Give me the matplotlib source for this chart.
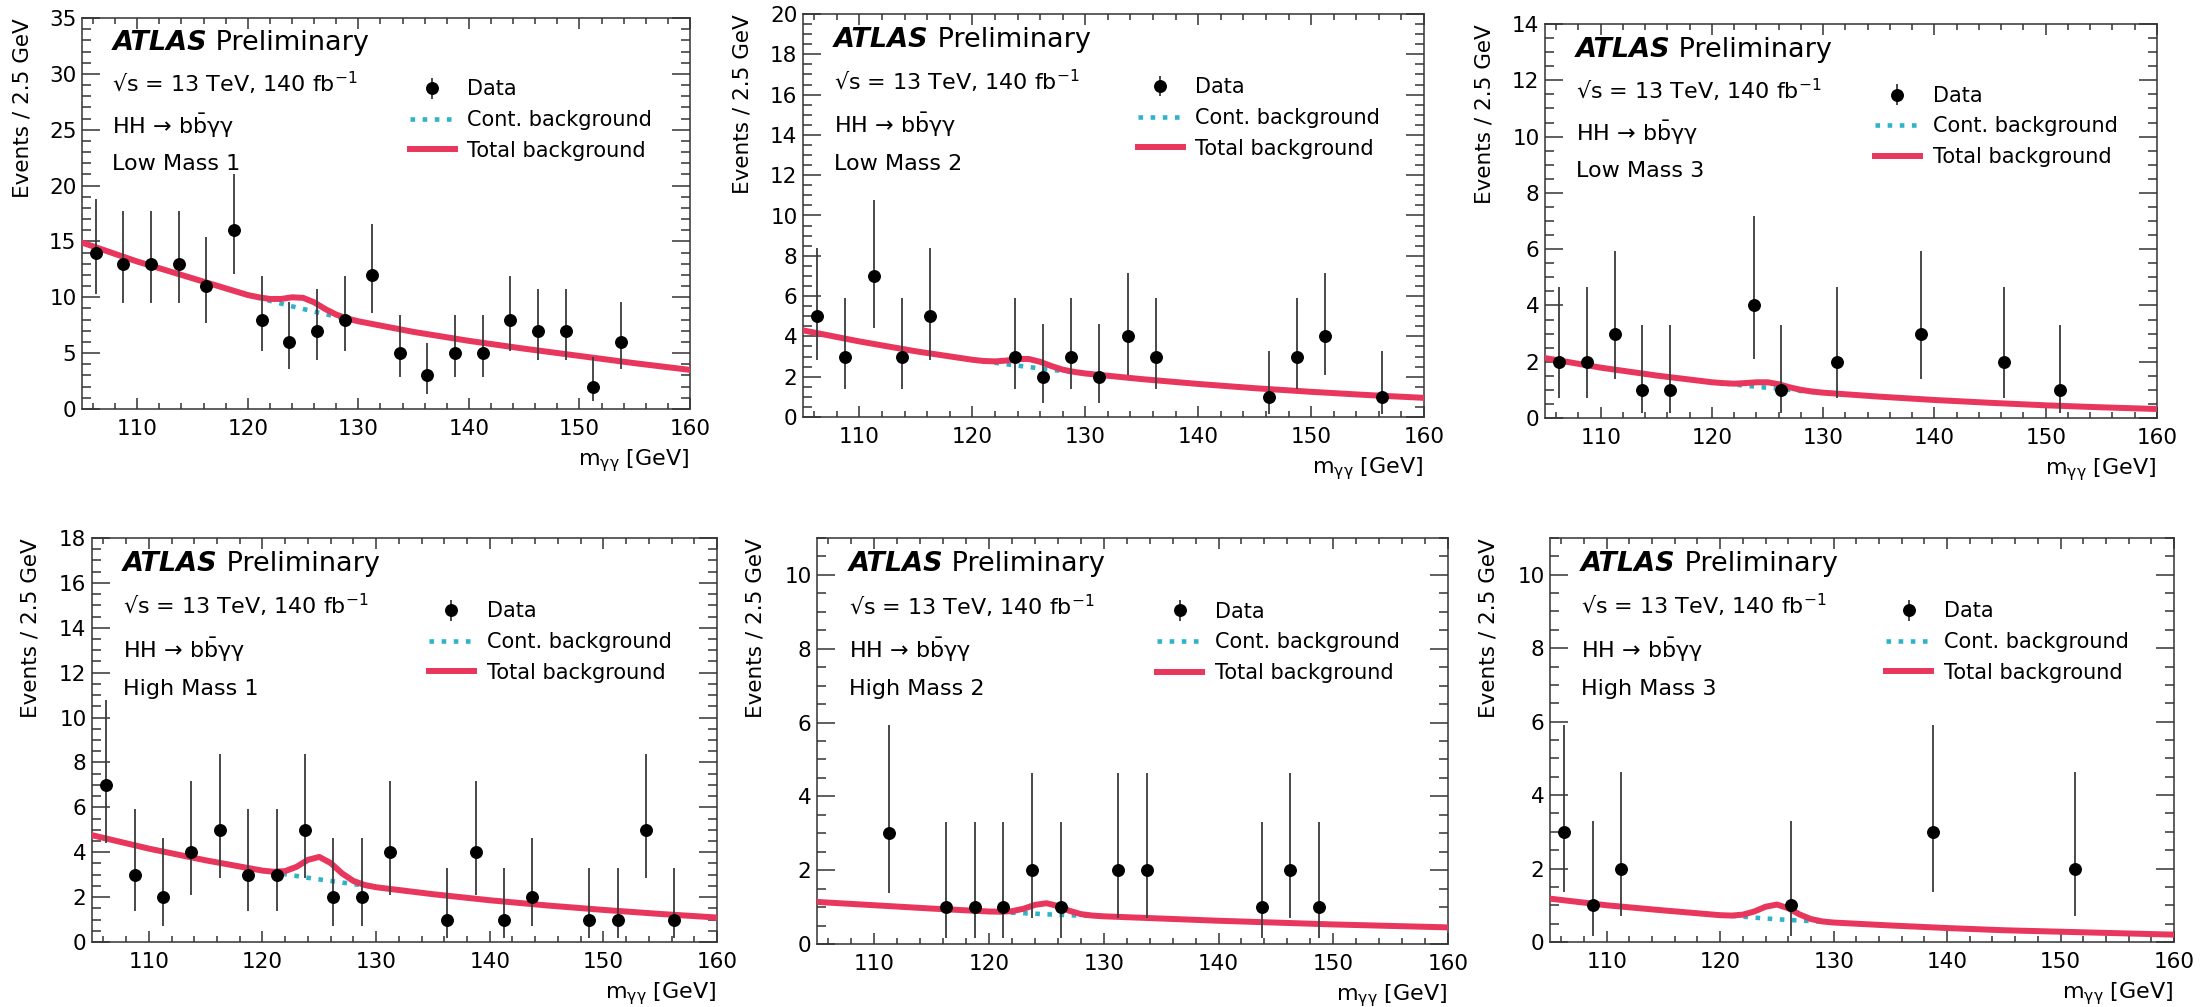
import matplotlib
matplotlib.use("Agg")
import matplotlib.pyplot as plt
from matplotlib.ticker import MultipleLocator

plt.rcParams['font.family'] = ['DejaVu Sans']
plt.rcParams['mathtext.fontset'] = 'dejavusans'

# 2.5 GeV bins between 105 and 160 GeV
bin_centers = [106.25, 108.75, 111.25, 113.75, 116.25, 118.75, 121.25, 123.75,
               126.25, 128.75, 131.25, 133.75, 136.25, 138.75, 141.25, 143.75,
               146.25, 148.75, 151.25, 153.75, 156.25, 158.75]

# observed events per bin (empty bins are not drawn)
counts_lm1 = [14, 13, 13, 13, 11, 16, 8, 6, 7, 8, 12, 5, 3, 5, 5, 8, 7, 7, 2, 6, 0, 0]
counts_lm2 = [5, 3, 7, 3, 5, 0, 0, 3, 2, 3, 2, 4, 3, 0, 0, 0, 1, 3, 4, 0, 1, 0]
counts_lm3 = [2, 2, 3, 1, 1, 0, 0, 4, 1, 0, 2, 0, 0, 3, 0, 0, 2, 0, 1, 0, 0, 0]
counts_hm1 = [7, 3, 2, 4, 5, 3, 3, 5, 2, 2, 4, 0, 1, 4, 1, 2, 0, 1, 1, 5, 1, 0]
counts_hm2 = [0, 0, 3, 0, 1, 1, 1, 2, 1, 0, 2, 2, 0, 0, 0, 1, 2, 1, 0, 0, 0, 0]
counts_hm3 = [3, 1, 2, 0, 0, 0, 0, 0, 1, 0, 0, 0, 0, 3, 0, 0, 0, 0, 2, 0, 0, 0]

# asymmetric Poisson bands (lower, upper) per observed count, as drawn
poisson_band = {1: (0.17, 3.30), 2: (0.71, 4.64), 3: (1.37, 5.92), 4: (2.09, 7.16),
                5: (2.84, 8.38), 6: (3.62, 9.58), 7: (4.42, 10.77), 8: (5.23, 11.95),
                11: (7.74, 15.42), 12: (8.62, 16.60), 13: (9.47, 17.70),
                14: (10.33, 18.84), 16: (12.06, 21.00)}

# continuum background curve
cont_x = [105, 110, 115, 120, 122, 124, 126, 128, 130, 135, 140, 145, 150, 155, 160]
cont_lm1 = [14.9, 13.2, 11.7, 10.2, 9.68, 9.19, 8.72, 8.27, 7.85, 6.9, 6.1, 5.4, 4.75, 4.1, 3.5]
cont_lm2 = [4.3, 3.75, 3.26, 2.84, 2.69, 2.55, 2.41, 2.28, 2.16, 1.88, 1.64, 1.43, 1.25, 1.09, 0.95]
cont_lm3 = [2.13, 1.79, 1.51, 1.27, 1.19, 1.11, 1.04, 0.96, 0.9, 0.76, 0.64, 0.54, 0.45, 0.38, 0.32]
cont_hm1 = [4.76, 4.16, 3.64, 3.18, 3.02, 2.86, 2.72, 2.58, 2.44, 2.13, 1.86, 1.63, 1.43, 1.25, 1.09]
cont_hm2 = [1.14, 1.05, 0.96, 0.88, 0.85, 0.82, 0.79, 0.77, 0.75, 0.69, 0.63, 0.58, 0.53, 0.49, 0.45]
cont_hm3 = [1.18, 1.0, 0.86, 0.73, 0.69, 0.64, 0.6, 0.57, 0.53, 0.45, 0.38, 0.32, 0.28, 0.24, 0.2]

# total background (continuum + single Higgs peak)
total_x = [105, 110, 115, 120, 121, 122, 123, 124, 125, 126, 127, 128, 129, 130,
           135, 140, 145, 150, 155, 160]
total_lm1 = [14.9, 13.2, 11.7, 10.2, 10.0, 9.85, 9.85, 10.0, 9.95, 9.55, 8.95, 8.45, 8.1, 7.85,
             6.9, 6.1, 5.4, 4.75, 4.1, 3.5]
total_lm2 = [4.3, 3.75, 3.26, 2.84, 2.78, 2.76, 2.8, 2.88, 2.88, 2.74, 2.53, 2.35, 2.24, 2.16,
             1.88, 1.64, 1.43, 1.25, 1.09, 0.95]
total_lm3 = [2.13, 1.79, 1.51, 1.27, 1.24, 1.22, 1.24, 1.27, 1.27, 1.2, 1.09, 1.0, 0.94, 0.9,
             0.76, 0.64, 0.54, 0.45, 0.38, 0.32]
total_hm1 = [4.76, 4.16, 3.64, 3.18, 3.13, 3.16, 3.35, 3.66, 3.79, 3.52, 3.06, 2.72, 2.54, 2.44,
             2.13, 1.86, 1.63, 1.43, 1.25, 1.09]
total_hm2 = [1.14, 1.05, 0.96, 0.88, 0.875, 0.89, 0.955, 1.06, 1.105, 1.03, 0.9, 0.81, 0.77, 0.75,
             0.69, 0.63, 0.58, 0.53, 0.49, 0.45]
total_hm3 = [1.18, 1.0, 0.86, 0.73, 0.72, 0.745, 0.83, 0.96, 1.02, 0.92, 0.75, 0.625, 0.56, 0.53,
             0.45, 0.38, 0.32, 0.28, 0.24, 0.2]

category_names = ['Low Mass 1', 'Low Mass 2', 'Low Mass 3',
                  'High Mass 1', 'High Mass 2', 'High Mass 3']
y_max = [35, 20, 14, 18, 11, 11]
y_major = [5, 2, 2, 2, 2, 2]
y_minor = [1, 0.5, 0.5, 0.5, 0.5, 0.5]

# axes boxes in pixels: left, right, top, bottom
W, H = 2204, 1007
boxes = [(82, 690, 18, 409), (803, 1424, 14, 417), (1545, 2157, 24, 418),
         (92, 717, 538, 942), (817, 1448, 538, 944), (1550, 2174, 538, 942)]

panels = list(zip(category_names,
                  [counts_lm1, counts_lm2, counts_lm3, counts_hm1, counts_hm2, counts_hm3],
                  [cont_lm1, cont_lm2, cont_lm3, cont_hm1, cont_hm2, cont_hm3],
                  [total_lm1, total_lm2, total_lm3, total_hm1, total_hm2, total_hm3],
                  y_max, y_major, y_minor, boxes))

red = '#e8365d'
cyan = '#2fb3c8'

fig = plt.figure(figsize=(W / 100, H / 100), dpi=100)

for name, counts, cont, total, ymax, ymaj, ymin, box in panels:
    l, r, t, b = box
    ax = fig.add_axes([l / W, 1 - b / H, (r - l) / W, (b - t) / H])

    # background curves
    h_cont, = ax.plot(cont_x, cont, color=cyan, lw=3.3, ls=':', zorder=2)
    h_tot, = ax.plot(total_x, total, color=red, lw=4.3, zorder=3)

    # data points with Poisson error bars
    xs = [c for c, n in zip(bin_centers, counts) if n > 0]
    ns = [n for n in counts if n > 0]
    err_lo = [n - poisson_band[n][0] for n in ns]
    err_hi = [poisson_band[n][1] - n for n in ns]
    h_data = ax.errorbar(xs, ns, yerr=[err_lo, err_hi], fmt='o', color='black',
                         ecolor='#3a3a3a', ms=8.3, elinewidth=1.3, capsize=0, zorder=4)

    ax.set_xlim(105, 160)
    ax.set_ylim(0, ymax)
    ax.xaxis.set_major_locator(MultipleLocator(10))
    ax.xaxis.set_minor_locator(MultipleLocator(2))
    ax.yaxis.set_major_locator(MultipleLocator(ymaj))
    ax.yaxis.set_minor_locator(MultipleLocator(ymin))
    ax.tick_params(which='both', direction='in', top=True, right=True,
                   labelsize=15.5, width=1.1, color='#333333')
    ax.tick_params(axis='x', which='major', length=8, pad=7)
    ax.tick_params(axis='x', which='minor', length=4.3)
    ax.tick_params(axis='y', which='major', length=13, pad=4)
    ax.tick_params(axis='y', which='minor', length=6.5)
    for sp in ax.spines.values():
        sp.set_linewidth(1.1)
        sp.set_color('#333333')

    ax.set_ylabel('Events / 2.5 GeV', fontsize=15.5, loc='top')
    ax.yaxis.set_label_coords(-0.082, 1.0)
    ax.set_xlabel(r'm$_{\mathrm{γγ}}$ [GeV]', fontsize=16, loc='right', labelpad=6)

    # ATLAS label block
    atl = ax.text(0.05, 0.935, 'ATLAS', transform=ax.transAxes, fontsize=19.5,
                  fontweight='bold', fontstyle='italic', va='center', ha='left')
    ax.annotate(' Preliminary', xy=(1, 0), xycoords=atl, va='bottom', ha='left',
                fontsize=19.5)
    ax.text(0.05, 0.832, '√s = 13 TeV, 140 fb$^{-1}$', transform=ax.transAxes,
            fontsize=16, va='center', ha='left')
    ax.text(0.05, 0.724, r'HH → b$\bar{\mathrm{b}}$γγ', transform=ax.transAxes,
            fontsize=16, va='center', ha='left')
    ax.text(0.05, 0.627, name, transform=ax.transAxes, fontsize=16,
            va='center', ha='left')

    ax.legend([h_data, h_cont, h_tot], ['Data', 'Cont. background', 'Total background'],
              loc='upper left', bbox_to_anchor=(0.539, 0.843), frameon=False,
              fontsize=15, handlelength=2.15, handletextpad=0.62,
              labelspacing=0.51, borderpad=0, borderaxespad=0)

fig.savefig('out.png', dpi=100)
